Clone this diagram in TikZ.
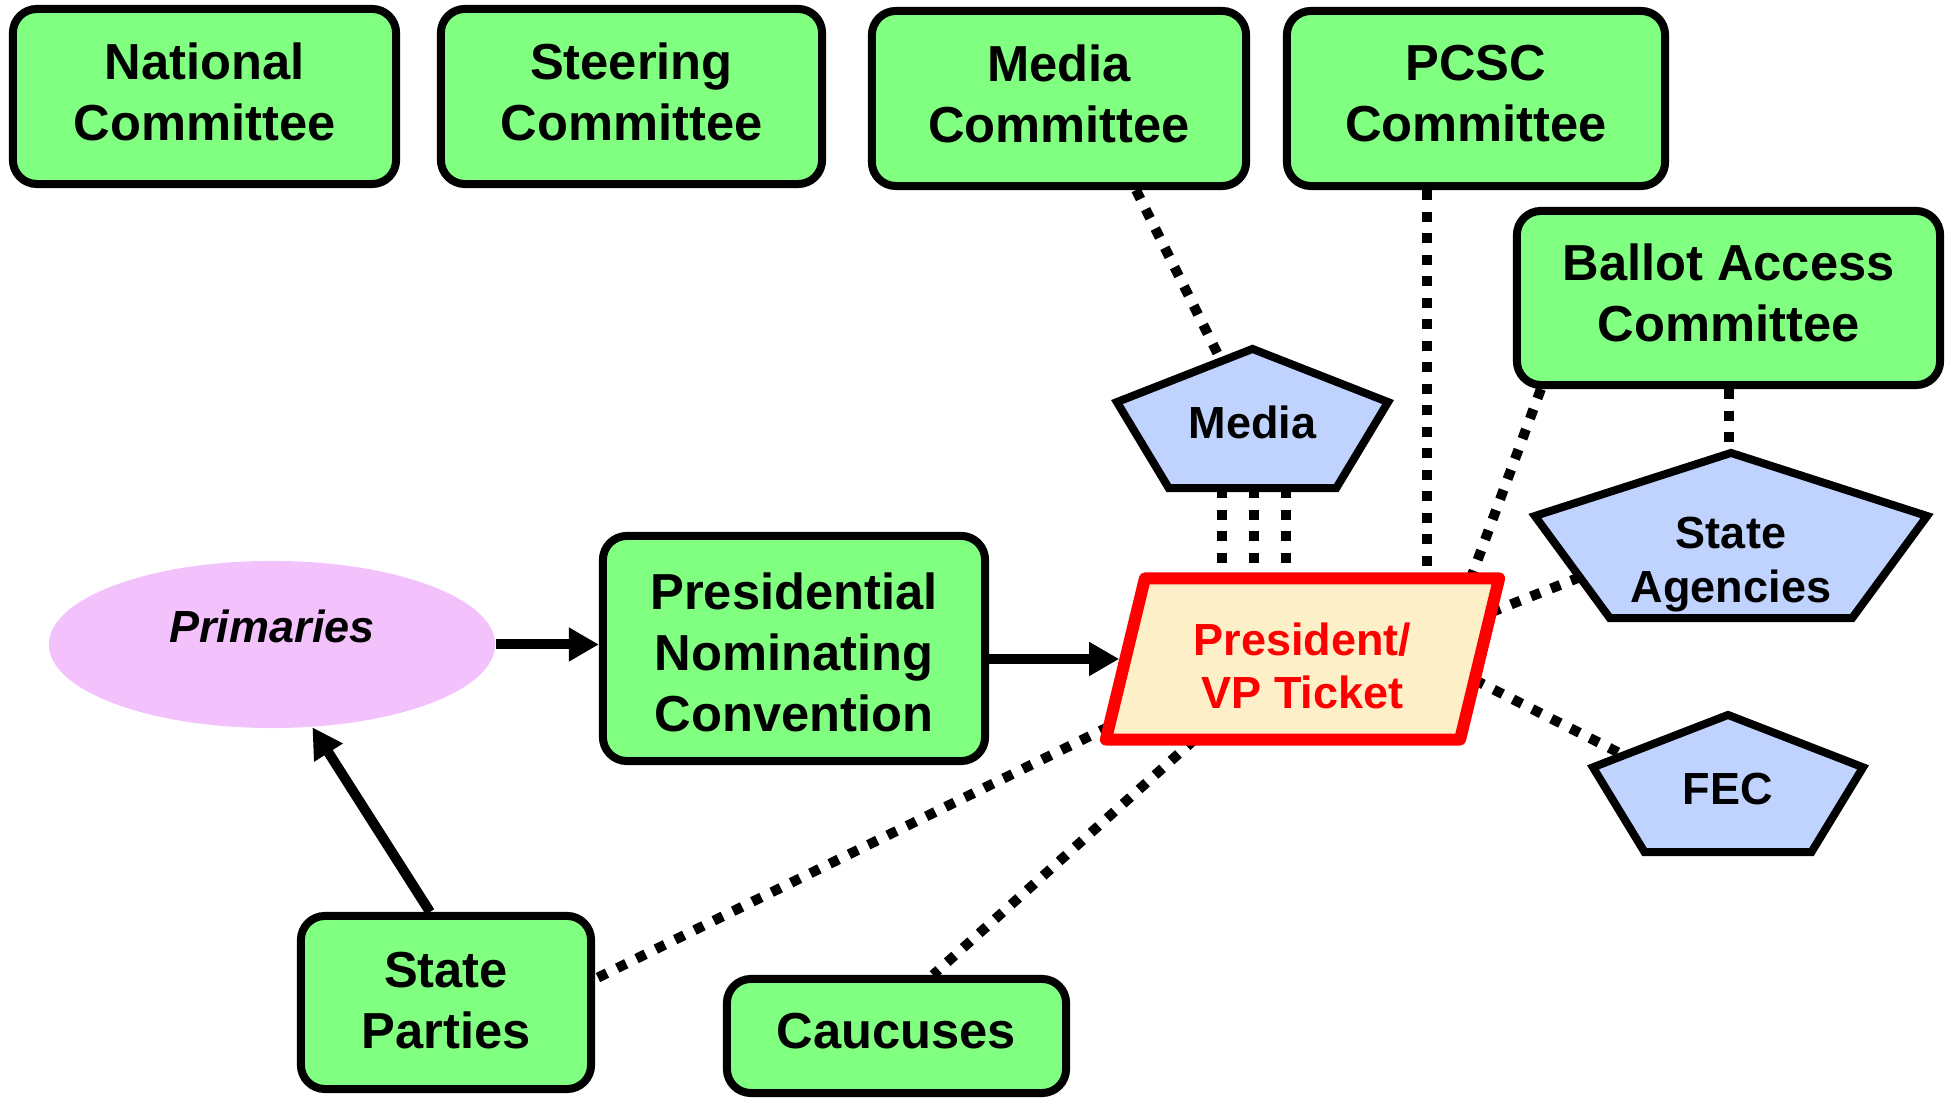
\documentclass[tikz,border=0pt]{standalone}
\usepackage{fontspec}
\setmainfont{Liberation Sans}
\usetikzlibrary{shapes.geometric,arrows.meta,calc}
\definecolor{boxgreen}{RGB}{128,255,128}
\definecolor{pentblue}{RGB}{192,211,255}
\definecolor{primpink}{RGB}{243,194,252}
\definecolor{ticketfill}{RGB}{253,239,200}
\definecolor{ticketred}{RGB}{255,0,0}
\pgfdeclarelayer{lines}
\pgfdeclarelayer{shapes}
\pgfsetlayers{lines,shapes,main}
% depth strut for the last line (lifts a node's text) / height strut for the first line (lowers it)
\newcommand\lowstrut[1]{\rule[-#1]{0pt}{#1}}
\newcommand\highstrut[1]{\rule{0pt}{#1}}
\newcommand\pentpath[1]{%
  \path[pentshape] (#1.north) coordinate (#1-t)
    -- ($(#1.north west)!0.382!(#1.south west)$) coordinate (#1-l)
    -- ($(#1.south west)!0.191!(#1.south east)$) coordinate (#1-bl)
    -- ($(#1.south east)!0.191!(#1.south west)$) coordinate (#1-br)
    -- ($(#1.north east)!0.382!(#1.south east)$) coordinate (#1-r)
    -- cycle;}
\tikzset{
  cbox/.style={rectangle, rounded corners=0.24cm, draw=black, line width=0.08cm,
    fill=boxgreen, align=center, inner sep=0pt,
    font=\bfseries\fontsize{14.4pt}{17.3pt}\selectfont},
  hiddenbox/.style={rectangle, draw=none, inner sep=0pt, outer sep=0pt},
  pentshape/.style={fill=pentblue, draw=black, line width=0.08cm},
  pentlabel/.style={align=center, inner sep=0pt, font=\bfseries\fontsize{12.8pt}{15.3pt}\selectfont},
  primlabel/.style={inner sep=0pt, font=\bfseries\itshape\fontsize{12.8pt}{15.3pt}\selectfont},
  ticketshape/.style={draw=ticketred, fill=ticketfill, line width=0.12cm, line join=round},
  tickettext/.style={align=center, text=ticketred, font=\bfseries\fontsize{12.8pt}{15.3pt}\selectfont},
  dotline/.style={line width=0.1cm, dash pattern=on 0.1cm off 0.115cm},
  arrowline/.style={line width=0.1cm, -{Triangle[length=0.3cm, width=0.32cm]}},
}
\begin{document}
\begin{tikzpicture}[x=0.01cm, y=-0.01cm]
\useasboundingbox (0,0) rectangle (1953,1098);

% committees (green boxes)
\node[cbox, minimum width=3.83cm, minimum height=1.75cm] (natl) at (204.5,96.5) {National\\Committee\lowstrut{0.1cm}};
\node[cbox, minimum width=3.81cm, minimum height=1.75cm] (steer) at (631.5,96.5) {Steering\\Committee\lowstrut{0.1cm}};
\node[cbox, minimum width=3.74cm, minimum height=1.75cm] (mediac) at (1059,98.5) {Media\\Committee\lowstrut{0.1cm}};
\node[cbox, minimum width=3.78cm, minimum height=1.75cm] (pcsc) at (1476,98.5) {PCSC\\Committee\lowstrut{0.1cm}};
\node[cbox, minimum width=4.23cm, minimum height=1.74cm] (ballot) at (1728.5,298) {Ballot Access\\Committee\lowstrut{0.1cm}};
\node[cbox, minimum width=3.82cm, minimum height=2.25cm] (conv) at (794,648.5) {\highstrut{0.45cm}Presidential\\Nominating\\Convention};
\node[cbox, minimum width=2.90cm, minimum height=1.73cm] (sp) at (446,1002.5) {State\\Parties\lowstrut{0.05cm}};
\node[cbox, minimum width=3.39cm, minimum height=1.14cm] (cauc) at (896.5,1036) {Caucuses\lowstrut{0.1cm}};

% primaries
\node[ellipse, fill=primpink, minimum width=4.46cm, minimum height=1.67cm, inner sep=0pt] (prim) at (272,644.5) {};
\node[primlabel] (primtext) at ([yshift=0.185cm]prim.center) {Primaries};

% ticket (parallelogram drawn from the corners of its box)
\node[hiddenbox, minimum width=3.93cm, minimum height=1.61cm,
  label={[tickettext, name=ticket-text, yshift=-0.07cm]center:{President/\\VP Ticket}}] (ticket) at (1302.5,659) {};

% pentagons
\node[hiddenbox, minimum width=2.71cm, minimum height=1.39cm,
  label={[pentlabel, name=mp-text, yshift=-0.04cm]center:Media}] (mp) at (1252.5,418.5) {};
\node[hiddenbox, minimum width=3.92cm, minimum height=1.65cm,
  label={[pentlabel, name=agencies-text, yshift=-0.29cm]center:{State\\Agencies}}] (agencies) at (1731,535.5) {};
\node[hiddenbox, minimum width=2.70cm, minimum height=1.37cm,
  label={[pentlabel, name=fec-text, yshift=-0.06cm]center:FEC}] (fec) at (1728,783.5) {};

\begin{pgfonlayer}{shapes}
  \pentpath{mp}
  \pentpath{agencies}
  \pentpath{fec}
  \path[ticketshape] ($(ticket.north west)!0.0992!(ticket.north east)$) coordinate (ticket-tl)
    -- (ticket.north east) coordinate (ticket-tr)
    -- ($(ticket.south east)!0.0992!(ticket.south west)$) coordinate (ticket-br)
    -- (ticket.south west) coordinate (ticket-bl)
    -- cycle;
  \coordinate (ticket-lm) at ($(ticket-bl)!0.5!(ticket-tl)$);
\end{pgfonlayer}

% dotted connectors
\begin{pgfonlayer}{lines}
  \path ($(mp-bl)!0.32!(mp-br)$) coordinate (mpb1)
        ($(mp-bl)!0.51!(mp-br)$) coordinate (mpb2)
        ($(mp-bl)!0.70!(mp-br)$) coordinate (mpb3)
        ([xshift=-0.49cm]pcsc.south) coordinate (pcscb);
  \draw[dotline] ([xshift=0.77cm]mediac.south) -- ($(mp-t)!0.23!(mp-l)$);
  \draw[dotline] (mpb1) -- (mpb1 |- ticket.north);
  \draw[dotline] (mpb2) -- (mpb2 |- ticket.north);
  \draw[dotline] (mpb3) -- (mpb3 |- ticket.north);
  \draw[dotline] (pcscb) -- (pcscb |- ticket.north);
  \draw[dotline] ([xshift=0.28cm]ballot.south west) -- ($(ticket-tl)!0.92!(ticket-tr)$);
  \draw[dotline] (ballot.south) -- (ballot.south |- agencies-t);
  \draw[dotline] ($(ticket-tr)!0.21!(ticket-br)$) -- ($(agencies-l)!0.6!(agencies-bl)$);
  \draw[dotline] ($(ticket-tr)!0.63!(ticket-br)$) -- ($(fec-l)!0.23!(fec-t)$);
  \draw[dotline] ($(ticket-bl)!0.08!(ticket-tl)$) -- ([yshift=0.235cm]sp.east);
  \draw[dotline] ($(ticket-bl)!0.25!(ticket-br)$) -- ([xshift=0.365cm]cauc.north);
\end{pgfonlayer}

% solid arrows
\draw[arrowline] (prim.east) -- (prim.east -| conv.west);
\draw[arrowline] (conv.east |- ticket-lm) -- ([xshift=-0.062cm]ticket-lm);
\draw[arrowline] ([xshift=-0.16cm]sp.north) -- (prim.-64);
\end{tikzpicture}
\end{document}
